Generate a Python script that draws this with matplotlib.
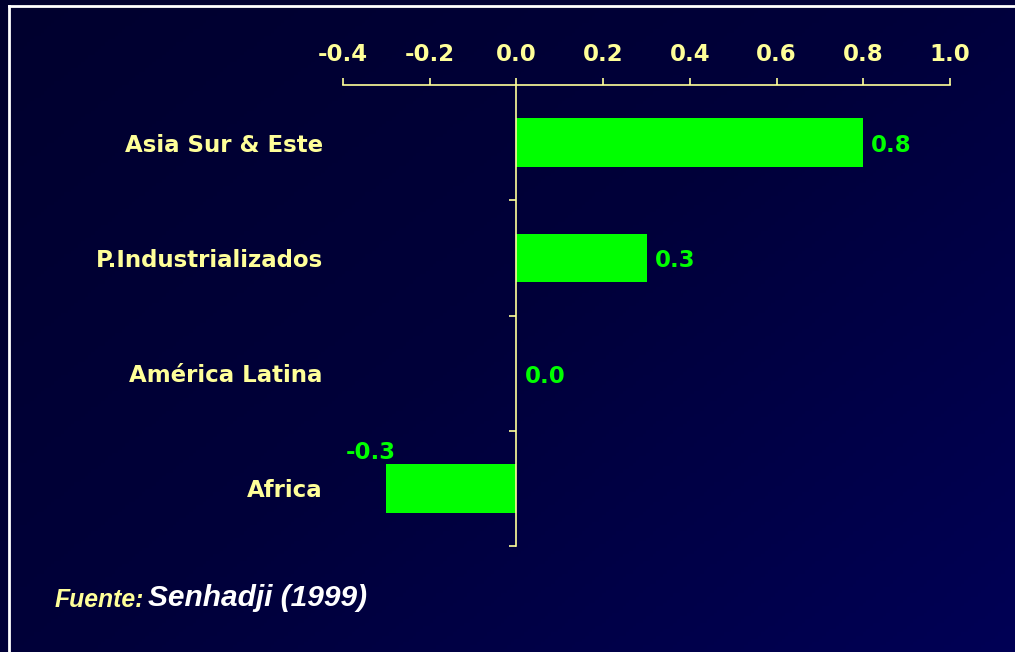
import numpy as np
import matplotlib
matplotlib.use("Agg")
import matplotlib.pyplot as plt
from matplotlib.colors import LinearSegmentedColormap
from matplotlib.lines import Line2D

categories = ["Asia Sur & Este", "P.Industrializados", "América Latina", "Africa"]
values = [0.8, 0.3, 0.0, -0.3]
xticks = [-0.4, -0.2, 0.0, 0.2, 0.4, 0.6, 0.8, 1.0]
xtick_labels = ["-0.4", "-0.2", "0.0", "0.2", "0.4", "0.6", "0.8", "1.0"]

YEL = "#FFFF99"
GRN = "#00FF00"

fig = plt.figure(figsize=(10.15, 6.52), dpi=100)

# background gradient
bg = fig.add_axes([0, 0, 1, 1], zorder=-10)
yy, xx = np.mgrid[0:1:200j, 0:1:300j]
grad = (xx * 0.55 + yy * 0.45)
cmap = LinearSegmentedColormap.from_list("bg", ["#00002E", "#00003A", "#000055"])
bg.imshow(grad, cmap=cmap, aspect="auto", extent=[0, 1, 0, 1], origin="upper")
bg.set_xlim(0, 1); bg.set_ylim(0, 1)
bg.axis("off")
# white frame (top and left)
bg.add_line(Line2D([9/1015, 1.0], [1 - 6/652, 1 - 6/652], color="white", lw=2))
bg.add_line(Line2D([9/1015, 9/1015], [1 - 6/652, 0], color="white", lw=2))

ax = fig.add_axes([343/1015, 1 - 546/652, 607/1015, 461/652])
ax.set_facecolor("none")
ax.spines["left"].set_position(("data", 0))
ax.spines["left"].set_color(YEL)
ax.spines["left"].set_linewidth(1.2)
ax.spines["top"].set_color(YEL)
ax.spines["top"].set_linewidth(1.2)
ax.spines["bottom"].set_visible(False)
ax.spines["right"].set_visible(False)

y = np.arange(len(categories))
ax.barh(y, values, height=0.42, color=GRN, zorder=2)
ax.set_xlim(-0.4, 1.0)
ax.set_ylim(len(categories) - 0.5, -0.5)

ax.xaxis.set_ticks_position("top")
ax.set_xticks(xticks)
ax.set_xticklabels(xtick_labels, fontweight="bold")
ax.tick_params(axis="x", which="major", direction="out", length=5, width=1.2,
               color=YEL, labelcolor=YEL, labelsize=16.5, pad=9)

ax.set_yticks(y)
ax.set_yticklabels(categories, fontweight="bold")
ax.set_yticks(np.arange(len(categories)) + 0.5, minor=True)
ax.tick_params(axis="y", which="major", length=0, labelcolor=YEL, labelsize=16.5, pad=139.5)
ax.tick_params(axis="y", which="minor", direction="out", length=5, width=1.2, color=YEL)

for yi, v in zip(y, values):
    if v >= 0:
        ax.annotate(f"{v:.1f}", xy=(v, yi), xytext=(8, -3), textcoords="offset pixels",
                    ha="left", va="center", color=GRN, fontsize=16.5, fontweight="bold")
    else:
        ax.annotate(f"{v:.1f}", xy=(v, yi - 0.21), xytext=(-16, 0), textcoords="offset pixels",
                    ha="center", va="bottom", color=GRN, fontsize=16.5, fontweight="bold")

for t in ax.get_yticklabels() + ax.get_xticklabels():
    t.set_fontweight("bold")

fig.text(55/1015, 1 - 600/652, "Fuente:", color=YEL, fontsize=17.8, fontstyle="italic",
         fontweight="bold", family="Liberation Sans", va="center", ha="left")
fig.text(148/1015, 1 - 598/652, "Senhadji (1999)", color="white", fontsize=21.5, fontstyle="italic",
         fontweight="bold", family="Liberation Sans", va="center", ha="left")

fig.savefig("out.png", dpi=100)
